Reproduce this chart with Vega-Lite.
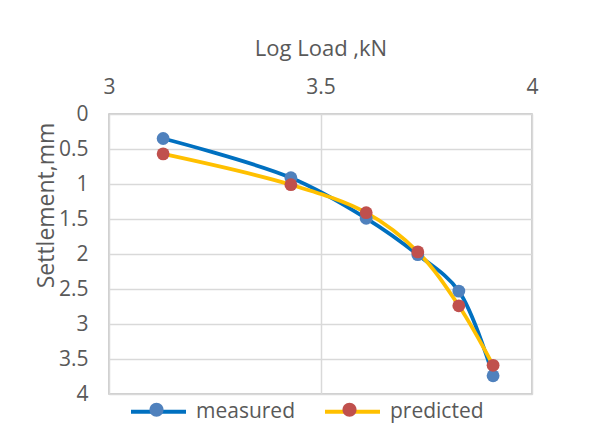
{
  "$schema": "https://vega.github.io/schema/vega-lite/v6.json",
  "autosize": "none",
  "width": 423,
  "height": 280,
  "padding": {"left": 109, "top": 114, "right": 60, "bottom": 51},
  "background": "white",
  "config": {
    "font": "Open Sans",
    "view": {"stroke": "#bfbfbf", "strokeWidth": 1.5}
  },
  "data": {"values": [
    {"series": "measured", "marker": "measured", "logload": 3.128, "settlement": 0.35, "ord": 1},
    {"series": "measured", "marker": "measured", "logload": 3.430, "settlement": 0.91, "ord": 2},
    {"series": "measured", "marker": "measured", "logload": 3.608, "settlement": 1.49, "ord": 3},
    {"series": "measured", "marker": "measured", "logload": 3.730, "settlement": 2.01, "ord": 4},
    {"series": "measured", "marker": "measured", "logload": 3.827, "settlement": 2.53, "ord": 5},
    {"series": "measured", "marker": "measured", "logload": 3.908, "settlement": 3.74, "ord": 6},
    {"series": "predicted", "marker": "predicted", "logload": 3.128, "settlement": 0.57, "ord": 1},
    {"series": "predicted", "marker": "predicted", "logload": 3.430, "settlement": 1.01, "ord": 2},
    {"series": "predicted", "marker": "predicted", "logload": 3.608, "settlement": 1.41, "ord": 3},
    {"series": "predicted", "marker": "predicted", "logload": 3.730, "settlement": 1.97, "ord": 4},
    {"series": "predicted", "marker": "predicted", "logload": 3.827, "settlement": 2.74, "ord": 5},
    {"series": "predicted", "marker": "predicted", "logload": 3.908, "settlement": 3.59, "ord": 6}
  ]},
  "encoding": {
    "x": {"field": "logload", "type": "quantitative", "scale": {"domain": [3, 4], "nice": false, "zero": false},
      "axis": {"orient": "top", "values": [3, 3.5, 4], "format": "~g", "title": "Log Load ,kN", "labelPadding": 17, "titlePadding": 16, "labelFlush": false,
        "domain": false, "ticks": false, "gridColor": "#d9d9d9", "gridWidth": 1.5, "labelColor": "#595959", "titleColor": "#595959",
        "labelFontSize": 21, "titleFontSize": 22, "titleFontWeight": "normal", "labelFont": "Open Sans", "titleFont": "Open Sans"}},
    "y": {"field": "settlement", "type": "quantitative", "scale": {"domain": [0, 4], "reverse": true, "nice": false},
      "axis": {"values": [0, 0.5, 1, 1.5, 2, 2.5, 3, 3.5, 4], "format": "~g", "title": "Settlement,mm", "labelPadding": 21, "titlePadding": 0, "titleY": 91,
        "domain": false, "ticks": false, "gridColor": "#d9d9d9", "gridWidth": 1.5, "labelColor": "#595959", "titleColor": "#595959",
        "labelFontSize": 21, "titleFontSize": 23, "titleFontWeight": "normal", "labelFont": "Open Sans", "titleFont": "Open Sans"}}
  },
  "layer": [
    {
      "mark": {"type": "line", "interpolate": "catmull-rom", "strokeWidth": 3.8},
      "encoding": {
        "order": {"field": "ord"},
        "color": {"field": "series", "type": "nominal",
          "scale": {"range": ["#0070C0", "#FFC000"]},
          "legend": {"orient": "none", "legendX": 20, "legendY": 268, "direction": "horizontal", "title": null,
            "symbolType": "M-1,0L1,0", "symbolSize": 3025, "symbolStrokeWidth": 3.8,
            "labelFontSize": 21, "labelColor": "#595959", "labelFont": "Open Sans", "columnPadding": 21, "labelOffset": 8}
        }
      }
    },
    {
      "mark": {"type": "point", "filled": true, "size": 165, "opacity": 1},
      "encoding": {
        "fill": {"field": "marker", "type": "nominal",
          "scale": {"range": ["#4F81BD", "#C0504D"]},
          "legend": {"orient": "none", "legendX": 20, "legendY": 268, "direction": "horizontal", "title": null,
            "symbolType": "M0.255,0A0.255,0.255,0,1,1,-0.255,0A0.255,0.255,0,1,1,0.255,0Z", "symbolSize": 3025, "symbolStrokeWidth": 0, "symbolOpacity": 1,
            "labelExpr": "''", "labelFontSize": 21, "labelFont": "Open Sans", "columnPadding": 130, "labelOffset": 8}
        }
      }
    }
  ]
}
